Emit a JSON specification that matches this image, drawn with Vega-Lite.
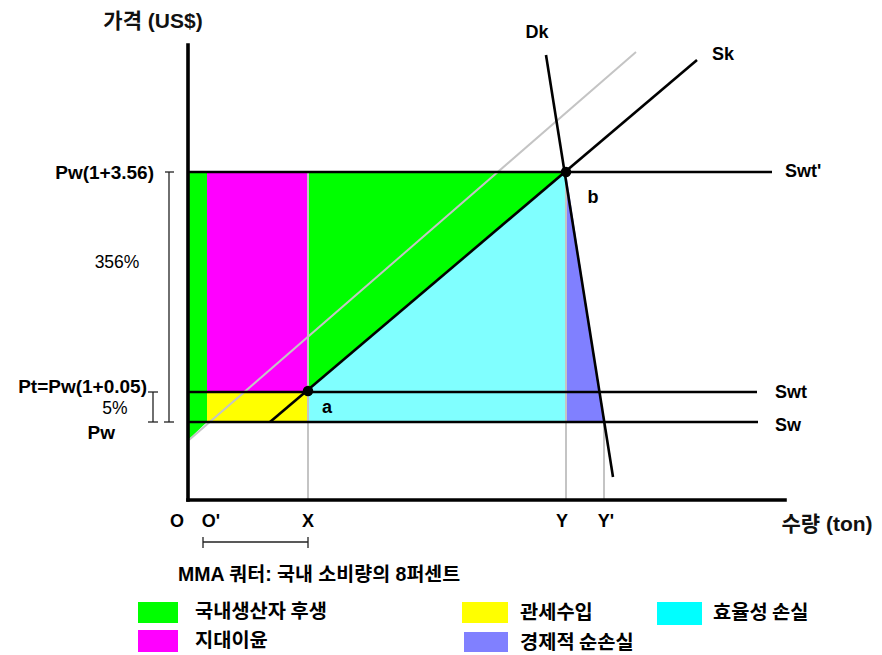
{
  "$schema": "https://vega.github.io/schema/vega-lite/v6.json",
  "width": 882,
  "height": 655,
  "padding": 0,
  "autosize": {"type": "none"},
  "background": "white",
  "config": {"view": {"stroke": null}},
  "datasets": {
    "regions": [
      {"k": "g1", "r": "국내생산자 후생", "x": 0, "y": 328, "y2": 60},
      {"k": "g1", "r": "국내생산자 후생", "x": 19, "y": 328, "y2": 78},
      {"k": "m", "r": "지대이윤", "x": 19, "y": 328, "y2": 108},
      {"k": "m", "r": "지대이윤", "x": 120, "y": 328, "y2": 108},
      {"k": "yl", "r": "관세수입", "x": 19, "y": 108, "y2": 78},
      {"k": "yl", "r": "관세수입", "x": 120, "y": 108, "y2": 78},
      {"k": "g2", "r": "국내생산자 후생", "x": 120, "y": 328, "y2": 110},
      {"k": "g2", "r": "국내생산자 후생", "x": 378, "y": 328, "y2": 328},
      {"k": "c", "r": "효율성 손실", "x": 120, "y": 110, "y2": 78},
      {"k": "c", "r": "효율성 손실", "x": 378, "y": 328, "y2": 78},
      {"k": "p", "r": "경제적 순손실", "x": 378, "y": 328, "y2": 78},
      {"k": "p", "r": "경제적 순손실", "x": 416, "y": 78, "y2": 78}
    ],
    "grayLines": [
      {"name": "X", "x": 120, "y": 0, "x2": 120, "y2": 328},
      {"name": "Y", "x": 378, "y": 0, "x2": 378, "y2": 328},
      {"name": "Y'", "x": 416, "y": 0, "x2": 416, "y2": 78},
      {"name": "Sk+Pw", "x": 1, "y": 60, "x2": 448, "y2": 448}
    ],
    "curves": [
      {"name": "Swt'", "x": 0, "y": 328, "x2": 584, "y2": 328},
      {"name": "Swt", "x": 0, "y": 108, "x2": 569, "y2": 108},
      {"name": "Sw", "x": 0, "y": 78, "x2": 570, "y2": 78},
      {"name": "Sk", "x": 82, "y": 78, "x2": 509, "y2": 440},
      {"name": "Dk", "x": 358, "y": 445, "x2": 425, "y2": 23}
    ],
    "axes": [
      {"name": "price", "x": 0, "y": 0, "x2": 0, "y2": 455},
      {"name": "quantity", "x": 0, "y": 0, "x2": 597, "y2": 0}
    ],
    "brackets": [
      {"x": -19, "y": 78, "x2": -19, "y2": 328},
      {"x": -23, "y": 328, "x2": -14, "y2": 328},
      {"x": -24, "y": 78, "x2": -14, "y2": 78},
      {"x": -35, "y": 78, "x2": -35, "y2": 108},
      {"x": -40, "y": 108, "x2": -30, "y2": 108},
      {"x": -40, "y": 78, "x2": -30, "y2": 78},
      {"x": 15, "y": -42, "x2": 120, "y2": -42},
      {"x": 15, "y": -37, "x2": 15, "y2": -48},
      {"x": 120, "y": -37, "x2": 120, "y2": -48}
    ],
    "points": [
      {"t": "a", "x": 120, "y": 109},
      {"t": "b", "x": 378, "y": 328}
    ],
    "centerBold": [
      {"t": "O", "x": -11, "y": -22},
      {"t": "O'", "x": 23, "y": -22},
      {"t": "X", "x": 120, "y": -22},
      {"t": "Y", "x": 374, "y": -22},
      {"t": "Y'", "x": 418, "y": -22},
      {"t": "a", "x": 139, "y": 92},
      {"t": "b", "x": 405, "y": 302},
      {"t": "Dk", "x": 349, "y": 467},
      {"t": "Sk", "x": 535, "y": 445}
    ],
    "leftBold": [
      {"t": "Swt'", "x": 597, "y": 328},
      {"t": "Swt", "x": 587, "y": 107},
      {"t": "Sw", "x": 587, "y": 74}
    ],
    "rightBold": [
      {"t": "Pw(1+3.56)", "x": -34, "y": 327},
      {"t": "Pt=Pw(1+0.05)", "x": -41, "y": 113},
      {"t": "Pw", "x": -73, "y": 67}
    ],
    "regular": [
      {"t": "356%", "x": -71, "y": 237},
      {"t": "5%", "x": -73, "y": 91}
    ],
    "titles": [
      {"t": "가격 (US$)", "x": -35, "y": 478},
      {"t": "수량 (ton)", "x": 639, "y": -25}
    ],
    "note": [
      {"t": "MMA 쿼터: 국내 소비량의 8퍼센트", "x": -10, "y": -75}
    ],
    "legendSwatches": [
      {"r": "국내생산자 후생", "x": -50, "x2": -10, "y": -102, "y2": -123},
      {"r": "지대이윤", "x": -50, "x2": -10, "y": -130, "y2": -152},
      {"r": "관세수입", "x": 274, "x2": 320, "y": -102, "y2": -123},
      {"r": "경제적 순손실", "x": 276, "x2": 320, "y": -132, "y2": -152},
      {"r": "효율성 손실", "x": 469, "x2": 514, "y": -102, "y2": -125}
    ],
    "legendLabels": [
      {"t": "국내생산자 후생", "x": 7, "y": -112},
      {"t": "지대이윤", "x": 7, "y": -141},
      {"t": "관세수입", "x": 332, "y": -113},
      {"t": "경제적 순손실", "x": 332, "y": -143},
      {"t": "효율성 손실", "x": 525, "y": -113}
    ]
  },
  "encoding": {
    "x": {"field": "x", "type": "quantitative", "scale": {"domain": [-188, 694], "nice": false, "zero": false}, "axis": null},
    "y": {"field": "y", "type": "quantitative", "scale": {"domain": [-155, 500], "nice": false, "zero": false}, "axis": null, "stack": null}
  },
  "resolve": {"scale": {"color": "independent"}},
  "layer": [
    {
      "data": {"name": "regions"},
      "mark": {"type": "area", "opacity": 1, "interpolate": "linear"},
      "encoding": {
        "y2": {"field": "y2"},
        "detail": {"field": "k"},
        "color": {"field": "r", "type": "nominal", "legend": null,
          "scale": {"domain": ["국내생산자 후생", "지대이윤", "관세수입", "경제적 순손실", "효율성 손실"],
                    "range": ["#00ff00", "#ff00ff", "#ffff00", "#8080ff", "#80ffff"]}}
      }
    },
    {
      "data": {"name": "legendSwatches"},
      "mark": {"type": "rect"},
      "encoding": {
        "x2": {"field": "x2"},
        "y2": {"field": "y2"},
        "color": {"field": "r", "type": "nominal", "legend": null,
          "scale": {"domain": ["국내생산자 후생", "지대이윤", "관세수입", "경제적 순손실", "효율성 손실"],
                    "range": ["#00ff00", "#ff00ff", "#ffff00", "#8080ff", "#00ffff"]}}
      }
    },
    {
      "data": {"name": "grayLines"},
      "mark": {"type": "rule", "color": "#c4c4c4", "strokeWidth": 2},
      "encoding": {"x2": {"field": "x2"}, "y2": {"field": "y2"}}
    },
    {
      "data": {"name": "curves"},
      "mark": {"type": "rule", "color": "black", "strokeWidth": 2.6},
      "encoding": {"x2": {"field": "x2"}, "y2": {"field": "y2"}}
    },
    {
      "data": {"name": "axes"},
      "mark": {"type": "rule", "color": "black", "strokeWidth": 3.6, "strokeCap": "square"},
      "encoding": {"x2": {"field": "x2"}, "y2": {"field": "y2"}}
    },
    {
      "data": {"name": "brackets"},
      "mark": {"type": "rule", "color": "#222222", "strokeWidth": 1.3},
      "encoding": {"x2": {"field": "x2"}, "y2": {"field": "y2"}}
    },
    {
      "data": {"name": "points"},
      "mark": {"type": "point", "filled": true, "color": "black", "size": 110, "opacity": 1},
      "encoding": {}
    },
    {
      "data": {"name": "centerBold"},
      "mark": {"type": "text", "font": "Liberation Sans", "fontWeight": "bold", "fontSize": 18, "align": "center", "baseline": "middle", "color": "black"},
      "encoding": {"text": {"field": "t"}}
    },
    {
      "data": {"name": "leftBold"},
      "mark": {"type": "text", "font": "Liberation Sans", "fontWeight": "bold", "fontSize": 18, "align": "left", "baseline": "middle", "color": "black"},
      "encoding": {"text": {"field": "t"}}
    },
    {
      "data": {"name": "rightBold"},
      "mark": {"type": "text", "font": "Liberation Sans", "fontWeight": "bold", "fontSize": 19, "align": "right", "baseline": "middle", "color": "black"},
      "encoding": {"text": {"field": "t"}}
    },
    {
      "data": {"name": "regular"},
      "mark": {"type": "text", "font": "Liberation Sans", "fontSize": 17.5, "align": "center", "baseline": "middle", "color": "black"},
      "encoding": {"text": {"field": "t"}}
    },
    {
      "data": {"name": "titles"},
      "mark": {"type": "text", "font": "Liberation Sans, Noto Sans CJK KR", "fontWeight": "bold", "fontSize": 21, "align": "center", "baseline": "middle", "color": "#111111"},
      "encoding": {"text": {"field": "t"}}
    },
    {
      "data": {"name": "note"},
      "mark": {"type": "text", "font": "Liberation Sans, Noto Sans CJK KR", "fontWeight": "bold", "fontSize": 19.5, "align": "left", "baseline": "middle", "color": "black"},
      "encoding": {"text": {"field": "t"}}
    },
    {
      "data": {"name": "legendLabels"},
      "mark": {"type": "text", "font": "Noto Sans CJK KR", "fontWeight": "bold", "fontSize": 19.8, "align": "left", "baseline": "middle", "color": "black"},
      "encoding": {"text": {"field": "t"}}
    }
  ]
}
